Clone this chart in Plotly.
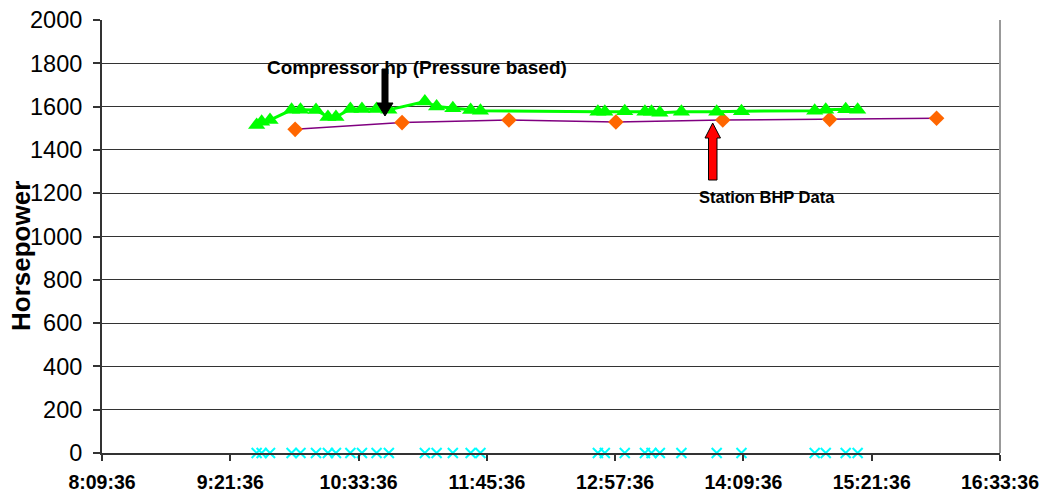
import datetime as dt
import plotly.graph_objects as go

DAY = "2000-01-01 "

# Compressor horsepower computed from suction/discharge pressures
comp_times = ["09:36:24", "09:39:12", "09:43:54", "09:56:00", "10:01:00", "10:09:42",
              "10:16:24", "10:20:54", "10:29:00", "10:35:30", "10:43:42", "10:50:36",
              "11:10:48", "11:17:24", "11:26:30", "11:36:30", "11:42:00", "12:47:54",
              "12:51:48", "13:03:00", "13:14:18", "13:18:00", "13:22:42", "13:34:48",
              "13:54:36", "14:08:30", "14:49:36", "14:55:48", "15:07:00", "15:13:42"]
comp_hp = [1515, 1530, 1538, 1585, 1585, 1584, 1552, 1552, 1589, 1589, 1589, 1585,
           1623, 1600, 1592, 1584, 1581, 1576, 1576, 1578, 1576, 1576, 1572, 1576,
           1576, 1579, 1581, 1585, 1588, 1586]

# Zero-load readings logged at the same sample times
zero_hp = [0] * len(comp_times)

# Hourly station brake-horsepower data
bhp_times = ["09:58:00", "10:58:00", "11:58:00", "12:58:00", "13:58:00", "14:58:00", "15:58:00"]
bhp_hp = [1495, 1526, 1538, 1529, 1538, 1541, 1546]

# Time axis: 08:09:36 to 16:33:36 in 72-minute steps
tick_labels = ["8:09:36", "9:21:36", "10:33:36", "11:45:36", "12:57:36",
               "14:09:36", "15:21:36", "16:33:36"]

FONT = "Liberation Sans, Arial, sans-serif"


def stamp(label):
    h, m, s = (int(v) for v in label.split(":"))
    return (dt.datetime(2000, 1, 1) + dt.timedelta(hours=h, minutes=m, seconds=s)).strftime(
        "%Y-%m-%d %H:%M:%S")


tick_vals = [stamp(t) for t in tick_labels]

fig = go.Figure()

fig.add_trace(go.Scatter(
    x=[DAY + t for t in bhp_times], y=bhp_hp, mode="lines+markers",
    line=dict(color="#800080", width=1.5),
    marker=dict(symbol="diamond", size=12, color="#FF6600"),
    name="Station BHP Data"))

fig.add_trace(go.Scatter(
    x=[DAY + t for t in comp_times], y=comp_hp, mode="lines+markers",
    line=dict(color="#00FF00", width=3),
    marker=dict(symbol="triangle-up", size=15, color="#00FF00"),
    name="Compressor hp (Pressure based)"))

fig.add_trace(go.Scatter(
    x=[DAY + t for t in comp_times], y=zero_hp, mode="markers",
    marker=dict(symbol="x-thin", size=10, line=dict(color="#00FFFF", width=2)),
    name="Zero", cliponaxis=False))

L, R, T, B = 102, 42, 20, 40
W, H = 1042, 493
pw, ph = W - L - R, H - T - B


def px(x):
    return (x - L) / pw


def py(y):
    return (H - B - y) / ph


def poly(points):
    return "M " + " L ".join(f"{px(a):.5f},{py(b):.5f}" for a, b in points) + " Z"


# Black pointer onto the compressor curve
black_arrow = [(382, 69), (388, 69), (388, 103), (393, 103), (385, 116),
               (377, 103), (382, 103)]
# Red block arrow pointing up at the station data
red_arrow = [(708.5, 180), (717, 180), (717, 138), (720.5, 138), (712.7, 123),
             (705, 138), (708.5, 138)]

shapes = [
    dict(type="path", xref="paper", yref="paper", path=poly(black_arrow),
         fillcolor="black", line=dict(color="black", width=1)),
    dict(type="path", xref="paper", yref="paper", path=poly(red_arrow),
         fillcolor="#FF0000", line=dict(color="black", width=1)),
    dict(type="line", xref="paper", yref="paper", x0=1, x1=1, y0=0, y1=1,
         line=dict(color="#999999", width=2)),
]

annotations = [
    dict(text="<b>Compressor hp (Pressure based)</b>", xref="paper", yref="paper",
         x=px(417), y=py(67), xanchor="center", yanchor="middle", showarrow=False,
         font=dict(size=19, color="black", family=FONT)),
    dict(text="<b>Station BHP Data</b>", xref="paper", yref="paper",
         x=px(767), y=py(197), xanchor="center", yanchor="middle", showarrow=False,
         font=dict(size=16.5, color="black", family=FONT)),
    dict(text="<b>Horsepower</b>", xref="paper", yref="paper", textangle=-90,
         x=px(21), y=py(256), xanchor="center", yanchor="middle", showarrow=False,
         font=dict(size=26, color="black", family=FONT)),
]

fig.update_layout(
    width=W, height=H,
    margin=dict(l=L, r=R, t=T, b=B, autoexpand=False),
    paper_bgcolor="white", plot_bgcolor="white",
    showlegend=False,
    font=dict(family=FONT, color="black"),
    shapes=shapes, annotations=annotations,
)

fig.update_xaxes(
    type="date", range=[tick_vals[0], tick_vals[-1]],
    tickmode="array", tickvals=tick_vals,
    ticktext=[f"<b>{t}</b>" for t in tick_labels],
    showgrid=False, zeroline=False, automargin=False,
    showline=True, linecolor="#333333", linewidth=2,
    ticks="outside", ticklen=6, tickwidth=1.5, tickcolor="#333333",
    ticklabelstandoff=5,
    tickfont=dict(size=19.5, family=FONT, color="black"),
)

fig.update_yaxes(
    range=[0, 2000], dtick=200, tick0=0,
    showgrid=True, gridcolor="#333333", gridwidth=1,
    zeroline=False, automargin=False,
    showline=True, linecolor="#333333", linewidth=2,
    ticks="outside", ticklen=7, tickwidth=1.5, tickcolor="#333333",
    ticklabelstandoff=6,
    tickfont=dict(size=23.5, family=FONT, color="black"),
)

fig.write_html("out.html")
